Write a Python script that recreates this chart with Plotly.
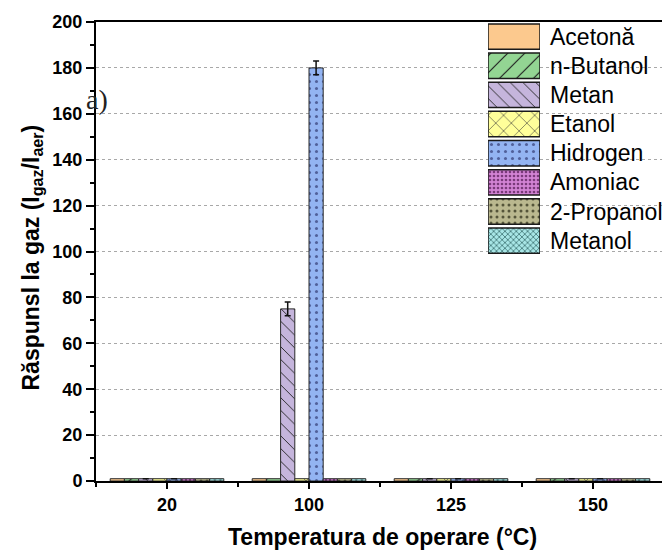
import plotly.graph_objects as go

# ---------------- data ----------------
temps = ["20", "100", "125", "150"]
series_names = ["Acetonă", "n-Butanol", "Metan", "Etanol", "Hidrogen", "Amoniac", "2-Propanol", "Metanol"]
acetona = [1, 1, 1, 1]
n_butanol = [1, 1, 1, 1]
metan = [1, 75, 1, 1]
etanol = [1, 1, 1, 1]
hidrogen = [1, 180, 1, 1]
amoniac = [1, 1, 1, 1]
propanol2 = [1, 1, 1, 1]
metanol = [1, 1, 1, 1]
metan_err = [0, 3, 0, 0]
hidrogen_err = [0, 3, 0, 0]
y_ticks = [0, 20, 40, 60, 80, 100, 120, 140, 160, 180, 200]

values = [acetona, n_butanol, metan, etanol, hidrogen, amoniac, propanol2, metanol]
errors = [None, None, metan_err, None, hidrogen_err, None, None, None]

# ---------------- styles ----------------
colors = ["#FCC98E", "#93D593", "#C5B5DC", "#FFFF9A", "#93B4F2", "#D283D4", "#BAB88F", "#A8E6E6"]
shapes = ["", "/", "\\", "x", ".", ".", ".", "x"]
psizes = [8, 12, 9, 11, 7, 4, 6, 4]
psolid = [0.3, 0.1, 0.1, 0.1, 0.15, 0.35, 0.2, 0.35]
fgcols = ["#FCC98E", "#222222", "#222222", "#333333", "#50609a", "#7a3a7a", "#55553a", "#3a7070"]

FONT = "Liberation Sans, Arial"
W, H = 662, 554
L, R, T, B = 96, 0, 22, 73
pw = W - L - R
ph = H - T - B
cat_px = 142.0
xr = [-0.5, -0.5 + pw / cat_px]

xpos = list(range(len(temps)))

fig = go.Figure()
for i, name in enumerate(series_names):
    err = errors[i]
    fig.add_trace(go.Bar(
        x=xpos, y=values[i], name=name, showlegend=False,
        marker=dict(color=colors[i], line=dict(color="#2a2a2a", width=1),
                    pattern=dict(shape=shapes[i], size=psizes[i], solidity=psolid[i],
                                 fgcolor=fgcols[i], bgcolor=colors[i], fillmode="replace")),
        error_y=(dict(type="data", array=err, visible=True, color="#111111", thickness=1.5, width=3)
                 if err is not None else dict(visible=False)),
        xaxis="x", yaxis="y",
    ))

# ---- custom legend (swatches drawn as bars on an inset axis) ----
for i, name in enumerate(series_names):
    fig.add_trace(go.Bar(
        x=[1], y=[i], orientation="h", width=0.87, offsetgroup="legend",
        showlegend=False, hoverinfo="skip",
        marker=dict(color=colors[i], line=dict(color="#1a1a1a", width=1.5),
                    pattern=dict(shape=shapes[i], size=psizes[i], solidity=psolid[i],
                                 fgcolor=fgcols[i], bgcolor=colors[i], fillmode="replace")),
        xaxis="x2", yaxis="y2",
    ))

annotations = []
for i, name in enumerate(series_names):
    annotations.append(dict(
        x=(548 - L) / pw, xref="paper", y=i, yref="y2", text=name, showarrow=False,
        xanchor="left", yanchor="middle",
        font=dict(family=FONT, size=23, color="#000000"),
    ))

# axis titles
annotations.append(dict(
    x=(382 - L) / pw, xref="paper", y=-(537 - 481) / ph, yref="paper",
    text="Temperatura de operare (°C)", showarrow=False, xanchor="center", yanchor="middle",
    font=dict(family=FONT, size=23, color="#000000", weight="bold"),
))
annotations.append(dict(
    x=-(L - 32) / pw, xref="paper", y=0.5 - 6 / ph, yref="paper", textangle=-90,
    text="Răspunsl la gaz (I<sub>gaz</sub>/I<sub>aer</sub>)", showarrow=False,
    xanchor="center", yanchor="middle",
    font=dict(family=FONT, size=23, color="#000000", weight="bold"),
))
# panel label
annotations.append(dict(
    x=(97 - L) / pw, xref="paper", y=(481 - 100) / ph, yref="paper",
    text="a)", showarrow=False, xanchor="center", yanchor="middle",
    font=dict(family="Liberation Serif, Times New Roman", size=28, color="#222222"),
))

leg_bot = 255.25
fig.update_layout(
    width=W, height=H,
    margin=dict(l=L, r=R, t=T, b=B, pad=0),
    paper_bgcolor="white", plot_bgcolor="white",
    barmode="group", bargap=0.2, bargroupgap=0.0,
    showlegend=False,
    annotations=annotations,
    xaxis=dict(
        domain=[0, 1], range=xr, tickmode="array", tickvals=xpos, ticktext=temps,
        ticks="outside", ticklen=6, tickwidth=2, tickcolor="#000000",
        showline=True, linecolor="#000000", linewidth=2, mirror=True,
        showgrid=False, zeroline=False,
        tickfont=dict(family=FONT, size=18, color="#000000", weight="bold"),
        minor=dict(tickmode="linear", tick0=0.5, dtick=1, ticks="outside", ticklen=4,
                   tickwidth=2, tickcolor="#000000", showgrid=False),
    ),
    yaxis=dict(
        domain=[0, 1], range=[0, 200], tickmode="array", tickvals=y_ticks,
        ticks="outside", ticklen=8, tickwidth=2, tickcolor="#000000",
        showline=True, linecolor="#000000", linewidth=2,
        showgrid=True, gridcolor="#a8a8a8", gridwidth=1, griddash="dot",
        zeroline=False,
        tickfont=dict(family=FONT, size=18, color="#000000", weight="bold"),
        minor=dict(tickmode="linear", tick0=0, dtick=10, ticks="outside", ticklen=4,
                   tickwidth=2, tickcolor="#000000", showgrid=False),
    ),
    xaxis2=dict(
        domain=[(488 - L) / pw, (540 - L) / pw], range=[0, 1], anchor="y2",
        visible=False, fixedrange=True,
    ),
    yaxis2=dict(
        domain=[(481 - leg_bot) / ph, 1.0], range=[len(series_names) - 0.5, -0.5],
        anchor="x2", visible=False, fixedrange=True,
    ),
)

fig.write_html("out.html", config={"displayModeBar": False},
               post_script="document.body.style.margin='0px';")
